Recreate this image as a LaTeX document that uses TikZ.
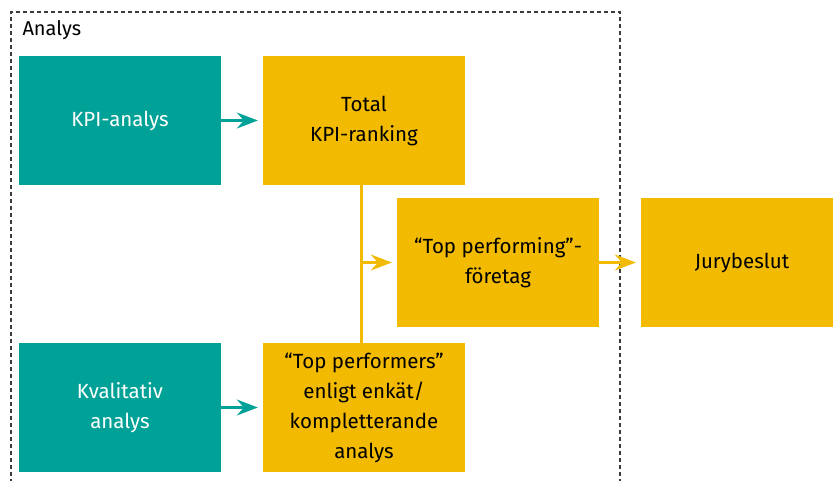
\documentclass[tikz,border=0pt]{standalone}
\usepackage{fontspec}
\setmainfont{Fira Sans}
\usepackage{xcolor}
\definecolor{kpiteal}{RGB}{0,161,150}
\definecolor{rankgold}{RGB}{242,186,0}
\definecolor{framegray}{RGB}{60,60,60}
\usetikzlibrary{arrows.meta}
\tikzset{
  stepteal/.style={fill=kpiteal, text=white, minimum width=202pt, minimum height=129pt,
    inner sep=0pt, align=center, font=\fontsize{20.5}{30}\selectfont},
  stepgold/.style={stepteal, fill=rankgold, text=black},
  tealflow/.style={-{Stealth[length=21pt,width=16pt,inset=7pt]}, kpiteal, line width=2.2pt, shorten >=5pt},
  goldflow/.style={tealflow, rankgold}
}

\begin{document}
\begin{tikzpicture}[x=1pt,y=-1pt]
    \useasboundingbox (0,0) rectangle (833,480);
    \draw[framegray, line width=1.1pt, dash pattern=on 4pt off 3pt] (620,490) -- (620,12) -- (11,12) -- (11,490);
    \node[anchor=west, font=\fontsize{20}{24}\selectfont] (frame) at (19,30) {Analys};

    \node[stepteal] (kpi) at (120,120.5) {KPI-analys};
    \node[stepgold] (ranking) at (364,120.5) {Total\\KPI-ranking};
    \node[stepgold] (top) at (498,262.5) {``Top performing''-\\företag};
    \node[stepgold] (jury) at (742,262.5) {Jurybeslut};
    \node[stepteal] (kval) at (120,407.5) {Kvalitativ\\analys};
    \node[stepgold] (performers) at (364,407.5) {``Top performers''\\enligt enkät/\\kompletterande\\analys};
    \coordinate (junc) at (361.5,262.5);

    \draw[tealflow] (kpi) -- (ranking);
    \draw[tealflow] (kval) -- (performers);
    \draw[rankgold, line width=2.2pt] (ranking.south -| junc) -- (performers.north -| junc);
    \draw[goldflow] (junc) -- (top);
    \draw[goldflow] (top) -- (jury);
\end{tikzpicture}
\end{document}
